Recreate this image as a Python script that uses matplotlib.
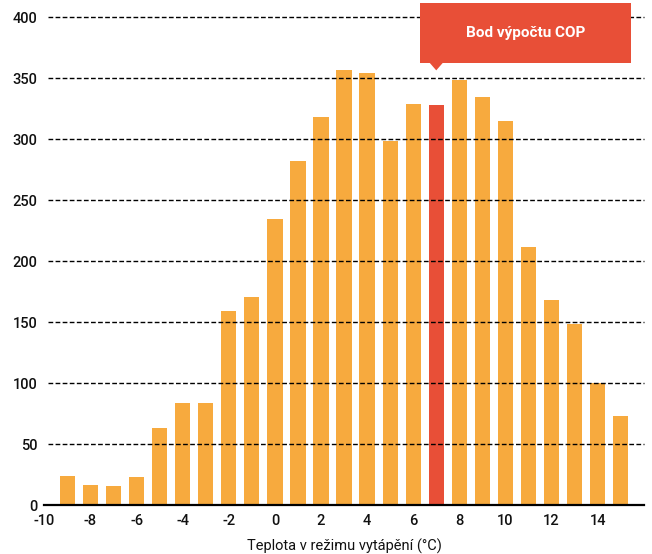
import matplotlib
matplotlib.use("Agg")
import matplotlib.pyplot as plt
from matplotlib.patches import Polygon, Rectangle

plt.rcParams['font.family'] = ['Roboto', 'DejaVu Sans']
plt.rcParams['axes.unicode_minus'] = False

temperatures = [-9, -8, -7, -6, -5, -4, -3, -2, -1, 0, 1, 2, 3, 4, 5, 6, 7, 8, 9, 10, 11, 12, 13, 14, 15]
hours = [24, 17, 16, 23, 63, 84, 84, 159, 171, 235, 282, 318, 357, 354, 299, 329, 328, 349, 335, 315, 212, 168, 149, 100, 73]
cop_point = 7
annotation_text = "Bod výpočtu COP"
x_label = "Teplota v režimu vytápění (°C)"
x_ticks = [-10, -8, -6, -4, -2, 0, 2, 4, 6, 8, 10, 12, 14]
y_ticks = [0, 50, 100, 150, 200, 250, 300, 350, 400]

ORANGE = "#F7AA3E"
RED = "#E84F37"

fig = plt.figure(figsize=(6.52, 5.54), dpi=100)
ax = fig.add_axes([44.4 / 652, 1 - 505.3 / 554, (643.7 - 44.4) / 652, (505.3 - 17.3) / 554])

colors = [RED if t == cop_point else ORANGE for t in temperatures]
ax.bar(temperatures, hours, width=0.66, color=colors, zorder=2)

ax.set_xlim(-10, 16)
ax.set_ylim(0, 400)

for y in y_ticks[1:]:
    ax.axhline(y, xmin=0.006, xmax=1, color="black", lw=1.0,
               linestyle=(0, (3.4, 1.7)), zorder=3, clip_on=False)
ax.axhline(0, color="black", lw=1.6, zorder=4, clip_on=False)

for s in ax.spines.values():
    s.set_visible(False)

ax.set_xticks(x_ticks)
ax.set_xticklabels([str(t) for t in x_ticks], fontweight="medium")
ax.set_yticks(y_ticks)
ax.set_yticklabels([str(t) for t in y_ticks], fontweight="medium")
ax.tick_params(axis='both', length=0, labelsize=10.5, colors="#111111")
ax.tick_params(axis='x', pad=6)
ax.tick_params(axis='y', pad=5)
ax.set_xlabel(x_label, fontsize=10.5, labelpad=8, color="#111111")

# annotation box
bx0, bx1, by0, by1 = 6.3, 15.43, 362.5, 411.5
box = Rectangle((bx0, by0), bx1 - bx0, by1 - by0, facecolor=RED, edgecolor="none",
                zorder=5, clip_on=False)
ax.add_patch(box)
tri = Polygon([(cop_point - 0.3, by0 + 0.5), (cop_point + 0.3, by0 + 0.5), (cop_point, 356.5)],
              closed=True, facecolor=RED, edgecolor="none", zorder=5, clip_on=False)
ax.add_patch(tri)
ax.text((bx0 + bx1) / 2, (by0 + by1) / 2, annotation_text, color="white",
        fontsize=11, fontweight="bold", ha="center", va="center", zorder=6, clip_on=False)

fig.savefig("out.png", dpi=100)
